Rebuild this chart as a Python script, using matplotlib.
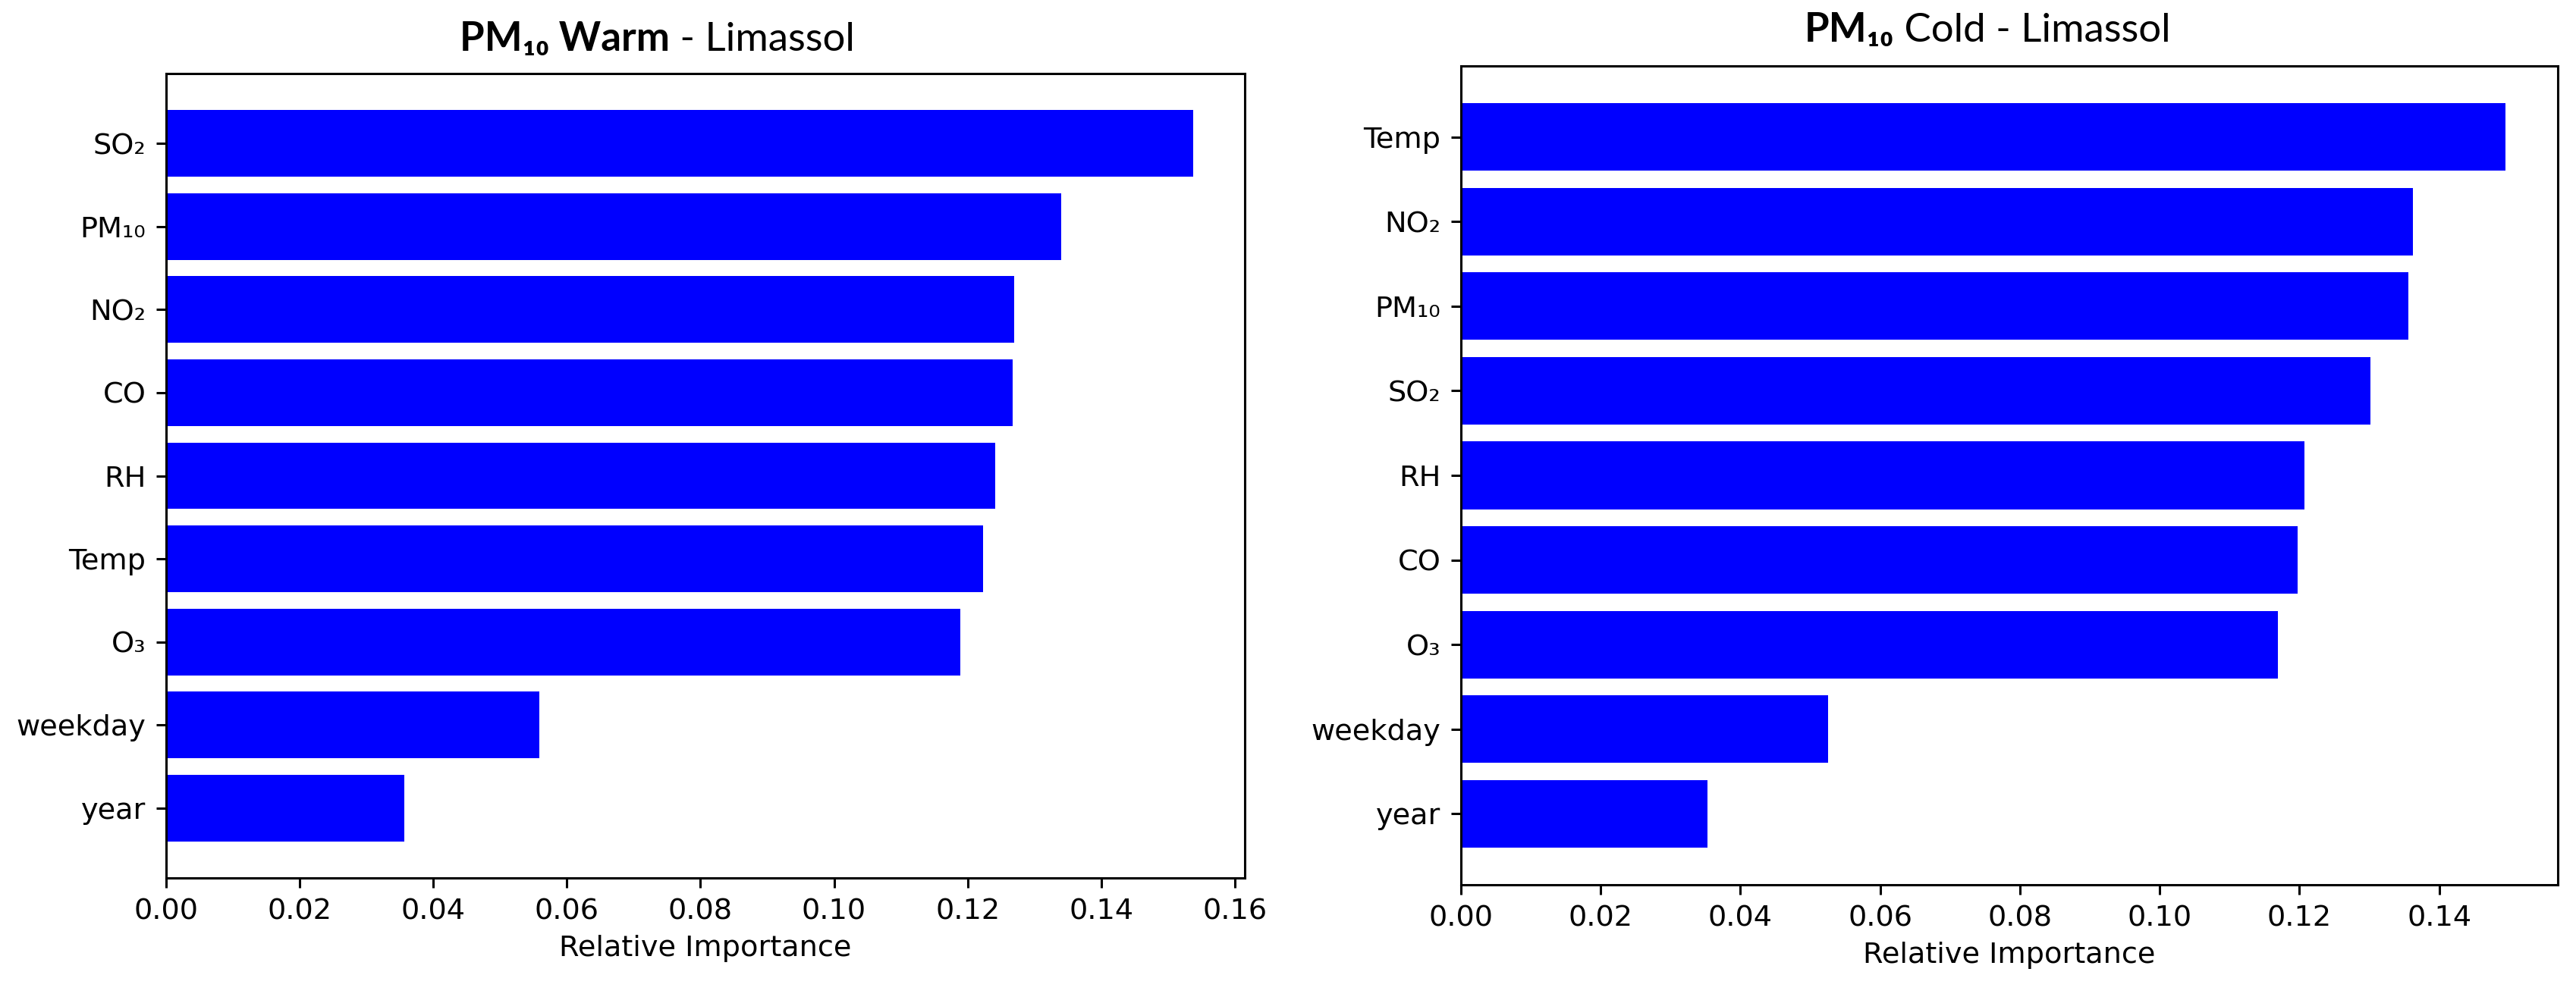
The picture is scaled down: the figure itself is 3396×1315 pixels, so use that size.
import matplotlib
matplotlib.use("Agg")
import matplotlib.pyplot as plt

# feature importances, listed top to bottom as in the chart
warm_features = ["SO₂", "PM₁₀", "NO₂", "CO", "RH", "Temp", "O₃", "weekday", "year"]
warm_values = [0.1538, 0.1340, 0.1270, 0.1267, 0.1241, 0.1223, 0.1189, 0.0559, 0.0357]

cold_features = ["Temp", "NO₂", "PM₁₀", "SO₂", "RH", "CO", "O₃", "weekday", "year"]
cold_values = [0.1495, 0.1362, 0.1356, 0.1302, 0.1207, 0.1197, 0.1169, 0.0525, 0.0353]

S = 2.75  # overall scale against matplotlib defaults
plt.rcParams['font.family'] = ['DejaVu Sans']
plt.rcParams['axes.linewidth'] = 0.8 * S
plt.rcParams['xtick.major.width'] = 0.8 * S
plt.rcParams['ytick.major.width'] = 0.8 * S
plt.rcParams['xtick.major.size'] = 3.5 * S
plt.rcParams['ytick.major.size'] = 3.5 * S
plt.rcParams['xtick.major.pad'] = 3.5 * S
plt.rcParams['ytick.major.pad'] = 3.5 * S
FS = 10 * S

W, H = 3396, 1315
fig = plt.figure(figsize=(W / 100, H / 100), dpi=100)


def panel(rect, features, values):
    ax = fig.add_axes(rect)
    names = features[::-1]
    vals = values[::-1]
    ax.barh(range(len(vals)), vals, color='#0000ff', height=0.8)
    ax.set_yticks(range(len(names)))
    ax.set_yticklabels(names, fontsize=FS)
    ax.tick_params(axis='x', labelsize=FS)
    ax.set_xlabel('Relative Importance', fontsize=FS, labelpad=9)
    return ax


def title(cx, baseline, parts, size):
    # parts: list of (text, weight); centred on cx (pixels), baseline in pixels from top
    r = fig.canvas.get_renderer()
    texts = []
    x = 0
    for s, w in parts:
        t = fig.text(x / W, 1 - baseline / H, s, fontsize=size, fontweight=w,
                     family=['Lato', 'DejaVu Sans'], ha='left', va='baseline')
        bb = t.get_window_extent(r)
        texts.append((t, x))
        x += bb.width
    x0 = cx - x / 2
    for t, off in texts:
        t.set_x((x0 + off) / W)


ax1 = panel([219 / W, 1 - 1158 / H, (1641 - 219) / W, (1158 - 97) / H], warm_features, warm_values)
ax2 = panel([1926 / W, 1 - 1167 / H, (3372 - 1926) / W, (1167 - 87) / H], cold_features, cold_values)

title(866, 67, [("PM₁₀ Warm", 'bold'), (" - Limassol", 'normal')], 38)
title(2620, 55, [("PM₁₀", 'bold'), (" Cold - Limassol", 'normal')], 38)

fig.savefig('out.png', dpi=100)
